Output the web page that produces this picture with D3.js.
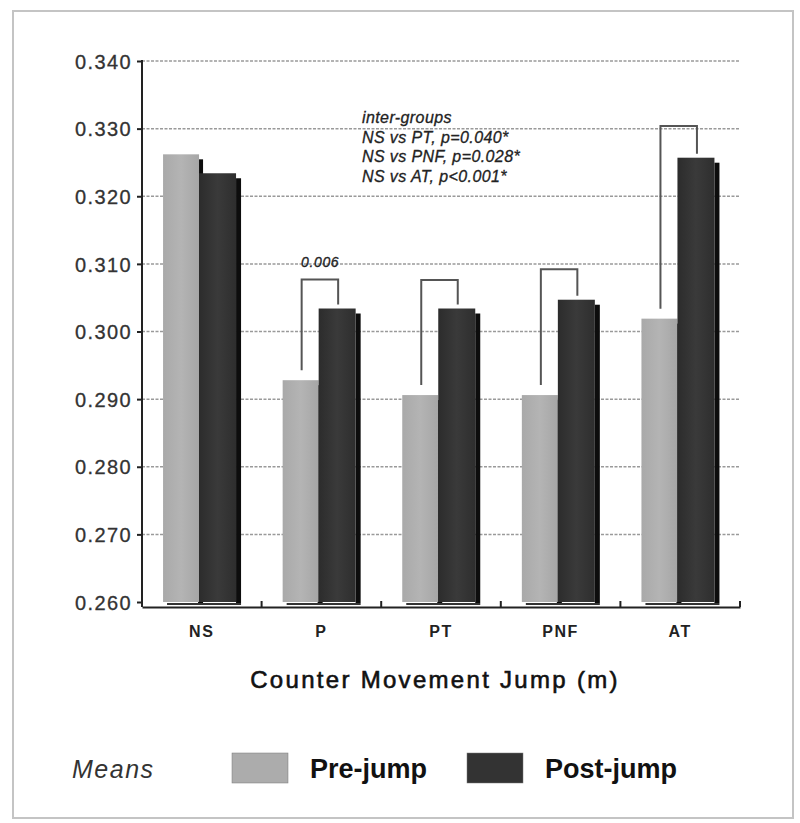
<!DOCTYPE html>
<html>
<head>
  <meta charset="utf-8">
  <script src="https://d3js.org/d3.v7.min.js"></script>
  <style>
    body { margin: 0; background: #fff; }
    svg text { font-family: "Liberation Sans", Arial, sans-serif; }
  </style>
</head>
<body>
  <svg width="800" height="823"></svg>

  <script>
    // values
    const categories = ["NS", "P", "PT", "PNF", "AT"];
    const preJump = [0.3262, 0.2928, 0.2906, 0.2906, 0.3019];
    const postJump = [0.3234, 0.3034, 0.3034, 0.3047, 0.3257];
    const yTicks = [0.260, 0.270, 0.280, 0.290, 0.300, 0.310, 0.320, 0.330, 0.340];
    // within-group brackets (level of the bracket top), null = no bracket
    const bracketTop = [null, 0.3077, 0.3076, 0.3092, 0.3304];
    const bracketLabels = [null, "0.006", null, null, null];
    const interGroupNotes = ["inter-groups", "NS vs PT, p=0.040*", "NS vs PNF, p=0.028*", "NS vs AT, p<0.001*"];
    const seriesNames = ["Pre-jump", "Post-jump"];

    const svg = d3.select("svg");
    const idx = d => categories.indexOf(d);

    // frame
    svg.append("rect")
      .attr("x", 13).attr("y", 11)
      .attr("width", 780).attr("height", 807)
      .attr("fill", "#fff")
      .attr("stroke", "#c4c4c4")
      .attr("stroke-width", 2);

    const defs = svg.append("defs");
    const g1 = defs.append("linearGradient").attr("id", "preGrad");
    g1.append("stop").attr("offset", "0%").attr("stop-color", "#a9a9a9");
    g1.append("stop").attr("offset", "50%").attr("stop-color", "#b4b4b4");
    g1.append("stop").attr("offset", "100%").attr("stop-color", "#a6a6a6");
    const g2 = defs.append("linearGradient").attr("id", "postGrad");
    g2.append("stop").attr("offset", "0%").attr("stop-color", "#2c2c2c");
    g2.append("stop").attr("offset", "50%").attr("stop-color", "#3a3a3a");
    g2.append("stop").attr("offset", "100%").attr("stop-color", "#2e2e2e");

    const x = d3.scaleBand().domain(categories).range([142, 740]).padding(0);
    const y = d3.scaleLinear().domain([0.26, 0.34]).range([602, 61]);
    const bw = x.bandwidth();
    const preOff = bw * 0.176, preW = 36;
    const postOff = bw * 0.477, postW = 37;
    const sh = 5;

    // gridlines
    svg.append("g")
      .selectAll("line")
      .data(yTicks.slice(1))
      .join("line")
      .attr("x1", 142).attr("x2", 740)
      .attr("y1", d => y(d)).attr("y2", d => y(d))
      .attr("stroke", "#9a9a9a")
      .attr("stroke-width", 1.5)
      .attr("stroke-dasharray", "3,1.5");

    // y axis
    const yAxis = svg.append("g")
      .attr("transform", "translate(142,0)")
      .call(d3.axisLeft(y).tickValues(yTicks).tickFormat(d3.format(".3f")).tickSize(5).tickSizeOuter(0));
    yAxis.select(".domain").remove();
    yAxis.selectAll(".tick line").attr("stroke", "#222").attr("stroke-width", 2);
    yAxis.selectAll(".tick text")
      .attr("x", -10)
      .attr("dy", "0.36em")
      .attr("fill", "#333")
      .attr("stroke", "#333").attr("stroke-width", 0.3)
      .style("font-size", "20px")
      .style("letter-spacing", "1.4px");
    svg.append("line")
      .attr("x1", 142).attr("x2", 142).attr("y1", 60).attr("y2", 607)
      .attr("stroke", "#222").attr("stroke-width", 2);

    const groups = svg.append("g")
      .selectAll("g")
      .data(categories)
      .join("g")
      .attr("transform", d => `translate(${x(d)},0)`);

    // pre-jump bar with its dark side
    groups.append("rect")
      .attr("x", postOff - 1).attr("y", d => y(preJump[idx(d)]) + sh)
      .attr("width", sh).attr("height", d => y(0.26) - y(preJump[idx(d)]) - sh + 1)
      .attr("fill", "#0d0d0d");
    groups.append("rect")
      .attr("x", preOff).attr("y", d => y(preJump[idx(d)]))
      .attr("width", preW).attr("height", d => y(0.26) - y(preJump[idx(d)]))
      .attr("fill", "url(#preGrad)");

    // post-jump bar with its dark side
    groups.append("rect")
      .attr("x", postOff + postW).attr("y", d => y(postJump[idx(d)]) + sh)
      .attr("width", sh).attr("height", d => y(0.26) - y(postJump[idx(d)]) - sh + 1)
      .attr("fill", "#0d0d0d");
    groups.append("rect")
      .attr("x", postOff).attr("y", d => y(postJump[idx(d)]))
      .attr("width", postW).attr("height", d => y(0.26) - y(postJump[idx(d)]))
      .attr("fill", "url(#postGrad)");
    // floor shadow
    groups.append("rect")
      .attr("x", preOff + 4).attr("y", y(0.26) + 1)
      .attr("width", postOff + postW + sh - preOff - 4).attr("height", 2)
      .attr("fill", "#333");

    // x axis
    const xAxis = svg.append("g")
      .attr("transform", "translate(0,607)")
      .call(d3.axisBottom(x).tickSize(0));
    xAxis.select(".domain").attr("stroke", "#222").attr("stroke-width", 2);
    xAxis.selectAll(".tick text")
      .attr("y", 0).attr("dy", 30)
      .attr("fill", "#222")
      .style("font-size", "16px")
      .style("font-weight", "bold")
      .style("letter-spacing", "1.6px");
    svg.append("g")
      .selectAll("line")
      .data(categories)
      .join("line")
      .attr("x1", d => x(d) + bw).attr("x2", d => x(d) + bw)
      .attr("y1", 601).attr("y2", 607)
      .attr("stroke", "#222").attr("stroke-width", 2);

    // within-group brackets
    groups.filter(d => bracketTop[idx(d)] !== null)
      .append("path")
      .attr("d", d => {
        const i = idx(d);
        const xl = preOff + preW / 2 + 1, xr = postOff + postW / 2 + 1;
        const top = y(bracketTop[i]);
        return `M${xl},${y(preJump[i]) - 10}V${top}H${xr}V${y(postJump[i]) - 4}`;
      })
      .attr("fill", "none")
      .attr("stroke", "#555")
      .attr("stroke-width", 2);

    groups.filter(d => bracketLabels[idx(d)] !== null)
      .append("text")
      .attr("x", (preOff + postOff + postW) / 2 + 1)
      .attr("y", d => y(bracketTop[idx(d)]) - 12)
      .attr("text-anchor", "middle")
      .style("font-size", "14px")
      .style("font-style", "italic")
      .style("letter-spacing", "0.6px")
      .attr("fill", "#222")
      .attr("stroke", "#222").attr("stroke-width", 0.3)
      .text(d => bracketLabels[idx(d)]);

    // inter-group note
    svg.append("g")
      .selectAll("text")
      .data(interGroupNotes)
      .join("text")
      .attr("x", 362)
      .attr("y", (d, i) => 123 + i * 19.5)
      .style("font-size", "16px")
      .style("font-style", "italic")
      .style("letter-spacing", "0.4px")
      .attr("fill", "#222")
      .attr("stroke", "#222").attr("stroke-width", 0.3)
      .text(d => d);

    // x title
    svg.append("text")
      .attr("x", 435).attr("y", 688)
      .attr("text-anchor", "middle")
      .style("font-size", "24px")
      .style("letter-spacing", "2.3px")
      .attr("fill", "#111")
      .attr("stroke", "#111").attr("stroke-width", 0.6)
      .text("Counter Movement Jump (m)");

    // legend
    svg.append("text")
      .attr("x", 72).attr("y", 778)
      .style("font-size", "25px")
      .style("font-style", "italic")
      .style("letter-spacing", "1.5px")
      .attr("fill", "#333")
      .text("Means");

    const legendX = [232, 467];
    const legendFill = ["#acacac", "#333"];
    const lg = svg.append("g")
      .selectAll("g")
      .data(seriesNames)
      .join("g")
      .attr("transform", (d, i) => `translate(${legendX[i]},753)`);
    lg.append("rect")
      .attr("width", 56).attr("height", 30)
      .attr("fill", (d, i) => legendFill[i])
      .attr("stroke", "#777").attr("stroke-width", 0.5);
    lg.append("text")
      .attr("x", 78).attr("y", 25)
      .style("font-size", "27px")
      .style("font-weight", "bold")
      .attr("fill", "#111")
      .text(d => d);
  </script>
</body>
</html>
